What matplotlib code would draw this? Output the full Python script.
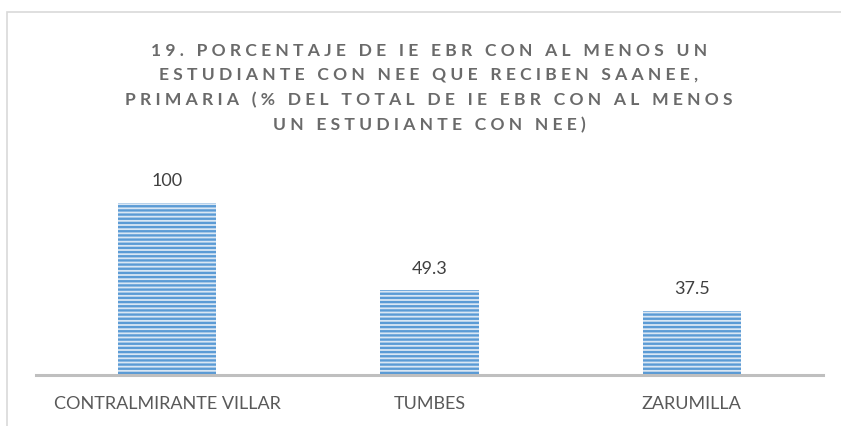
import matplotlib.pyplot as plt
from matplotlib.patches import Rectangle

categories = ['CONTRALMIRANTE VILLAR', 'TUMBES', 'ZARUMILLA']
values = [100, 49.3, 37.5]
value_labels = ['100', '49.3', '37.5']
title_lines = ['19. PORCENTAJE DE IE EBR CON AL MENOS UN',
               'ESTUDIANTE CON NEE QUE RECIBEN SAANEE,',
               'PRIMARIA (% DEL TOTAL DE IE EBR CON AL MENOS',
               'UN ESTUDIANTE CON NEE)']

plt.rcParams['font.family'] = ['Lato', 'DejaVu Sans']
plt.rcParams['hatch.linewidth'] = 1.7


def spaced(s):
    # fake letter spacing of the Excel title
    return '   '.join(' '.join(w) for w in s.split(' '))


fig = plt.figure(figsize=(8.41, 4.26), dpi=100)
ax = fig.add_axes([36 / 841, 1 - 375 / 426, 787 / 841, 206.4 / 426])

x = list(range(len(categories)))
ax.bar(x, values, width=0.375, color='#dae7f4', edgecolor='#5b9bd5',
       linewidth=0, hatch='----')

for i, v in enumerate(values):
    ax.annotate(value_labels[i], (i, v), xytext=(0, 12), textcoords='offset points',
                ha='center', va='baseline', fontsize=13, color='#404040')

ax.set_xlim(-0.5, 2.5)
ax.set_ylim(0, 120)
ax.set_xticks(x)
ax.set_xticklabels(categories, fontsize=13, color='#595959')
ax.tick_params(axis='x', length=0, pad=15)
ax.set_yticks([])
for s in ['top', 'left', 'right']:
    ax.spines[s].set_visible(False)
ax.spines['bottom'].set_color('#bfbfbf')
ax.spines['bottom'].set_linewidth(2.2)

baselines = [56, 80, 105, 130]
for line, yb in zip(title_lines, baselines):
    fig.text(429 / 841, 1 - yb / 426, spaced(line), ha='center', va='baseline',
             fontsize=12.6, fontweight='bold', color='#6a6a6a')

fig.patches.append(Rectangle((6.5 / 841, -0.1), 2, 1 - 11.5 / 426 + 0.1,
                             transform=fig.transFigure, fill=False,
                             edgecolor='#d9d9d9', linewidth=1.2))

fig.savefig('out.png', dpi=100)
